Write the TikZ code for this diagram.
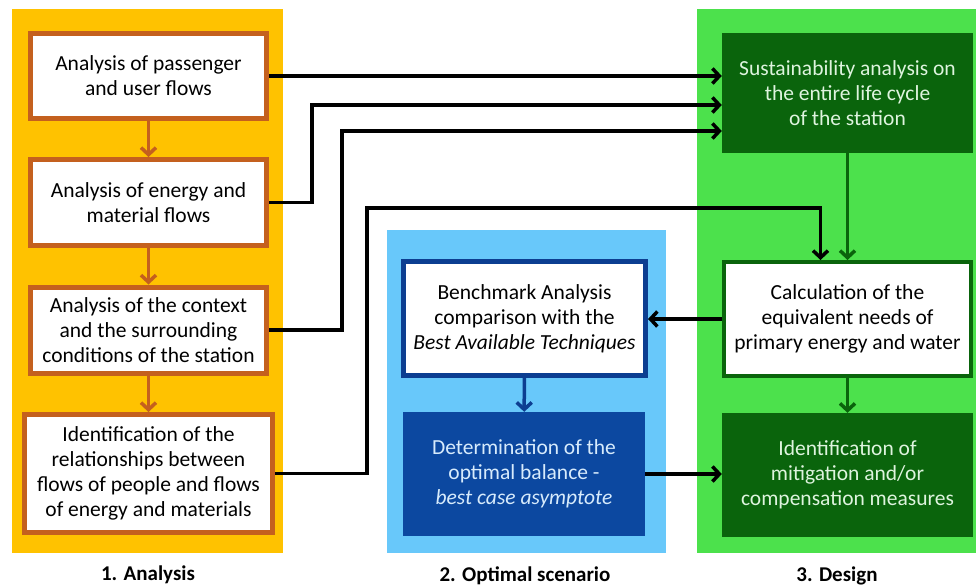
\documentclass[tikz,border=0pt]{standalone}
\usepackage{fontspec}
\setmainfont{Carlito}
\usetikzlibrary{arrows.meta}
\definecolor{pOrange}{RGB}{255,194,0}
\definecolor{bBrown}{RGB}{196,96,30}
\definecolor{pBlue}{RGB}{104,200,250}
\definecolor{dBlue}{RGB}{12,62,145}
\definecolor{fBlue}{RGB}{12,72,160}
\definecolor{tBlue}{RGB}{215,235,252}
\definecolor{pGreen}{RGB}{76,225,76}
\definecolor{dGreen}{RGB}{10,100,12}
\definecolor{tGreen}{RGB}{222,244,222}
\tikzset{
  txt/.style={font=\fontsize{21.5}{25}\selectfont, align=center, inner sep=0pt},
  orbox/.style={txt, draw=bBrown, line width=5pt, fill=white},
  blbox/.style={txt, draw=dBlue, line width=5pt, fill=white},
  blfill/.style={txt, fill=fBlue, text=tBlue},
  grbox/.style={txt, draw=dGreen, line width=4pt, fill=white},
  grfill/.style={txt, fill=dGreen, text=tGreen},
  arr/.style={line width=3.5pt, -{Straight Barb[length=7pt,width=15pt]}},
  lbl/.style={font=\fontsize{21}{24}\selectfont\bfseries, inner sep=0pt},
}
\begin{document}
\begin{tikzpicture}[x=1pt,y=-1pt]
\useasboundingbox (0,0) rectangle (976,587);
% panels
\fill[pOrange] (12,9) rectangle (283,553);
\fill[pBlue] (387,230) rectangle (666,553);
\fill[pGreen] (697,9) rectangle (976,553);
% analysis boxes
\node[orbox, minimum width=236pt, minimum height=85pt] (b1) at (148.5,76) {Analysis of passenger\\and user flows};
\node[orbox, minimum width=236pt, minimum height=86pt] (b2) at (148.5,202.5) {Analysis of energy and\\material flows};
\node[orbox, minimum width=236pt, minimum height=86pt] (b3) at (148.5,330) {Analysis of the context\\and the surrounding\\conditions of the station};
\node[orbox, minimum width=248pt, minimum height=118pt] (b4) at (148.5,473.5) {Identification of the\\relationships between\\flows of people and flows\\of energy and materials};
% optimal scenario boxes
\node[blbox, minimum width=242pt, minimum height=114pt] (bench) at (524.5,318.5) {Benchmark Analysis\\comparison with the\\\textit{Best Available Techniques}};
\node[blfill, minimum width=242pt, minimum height=124pt] (det) at (524,474) {Determination of the\\optimal balance -\\\textit{best case asymptote}};
% design boxes
\node[grfill, minimum width=251pt, minimum height=120pt] (sust) at (847.5,93) {Sustainability analysis on\\the entire life cycle\\of the station};
\node[grbox, minimum width=247pt, minimum height=114pt] (calc) at (847.5,319) {Calculation of the\\equivalent needs of\\primary energy and water};
\node[grfill, minimum width=251pt, minimum height=124pt] (ident) at (847.5,475) {Identification of\\mitigation and/or\\compensation measures};
% panel labels
\node[lbl] (l1) at (148,575) {1. Analysis};
\node[lbl] (l2) at (525,576) {2. Optimal scenario};
\node[lbl] (l3) at (837,576) {3. Design};
% internal arrows
\draw[arr, bBrown] (b1) -- (b2);
\draw[arr, bBrown] (b2) -- (b3);
\draw[arr, bBrown] (b3) -- (b4);
\draw[arr, dBlue] (bench) -- (det);
\draw[arr, dGreen] (sust) -- (calc);
\draw[arr, dGreen] (calc) -- (ident);
% connectors
\coordinate (k2) at (312,105);
\coordinate (k3) at (342,131);
\coordinate (k4) at (367,208);
\draw[arr] (b1.east) -- (b1.east -| sust.west);
\draw[arr] (b2.east) -| (k2) -- (k2 -| sust.west);
\draw[arr] (b3.east) -| (k3) -- (k3 -| sust.west);
\draw[arr] (b4.east) -| (k4) -| ([xshift=-27pt]calc.north);
\draw[arr] (calc.west) -- (calc.west -| bench.east);
\draw[arr] (det.east) -- (det.east -| ident.west);
\end{tikzpicture}
\end{document}
